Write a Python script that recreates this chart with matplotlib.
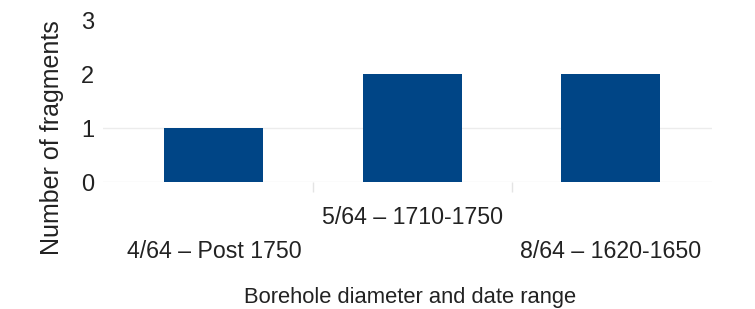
import numpy as np
import matplotlib
matplotlib.use("Agg")
import matplotlib.pyplot as plt

plt.rcParams['font.family'] = ['Liberation Sans', 'DejaVu Sans']

categories = ["4/64 \u2013 Post 1750", "5/64 \u2013 1710-1750", "8/64 \u2013 1620-1650"]
fragments = [1, 2, 2]
y_ticks = [0, 1, 2, 3]
grid_levels = [0, 1]   # only these gridlines show in the original

fig = plt.figure(figsize=(7.55, 3.09), dpi=100)
ax = fig.add_axes([0.136, 0.411, 0.807, 0.524])

x = np.arange(len(categories))
ax.bar(x, fragments, width=0.5, color="#004586", zorder=3)

ax.set_xlim(-0.56, 2.51)
ax.set_ylim(0, 3)
ax.set_yticks(y_ticks)
ax.yaxis.grid(True, color="#ececec", linewidth=1, zorder=0)
for val, gl in zip(y_ticks, ax.yaxis.get_gridlines()):
    gl.set_visible(val in grid_levels)
for s in ax.spines.values():
    s.set_visible(False)

ax.tick_params(axis="y", length=0, pad=6, labelsize=17, labelcolor="#222222")
ax.set_xticks(x)
ax.set_xticklabels(categories, fontsize=16.7, color="#222222")
ax.tick_params(axis="x", which="major", length=0)
# staggered category labels
for i, t in enumerate(ax.xaxis.get_major_ticks()):
    t.set_pad(17 if i == 1 else 42)

ax.set_xticks([0.5, 1.5], minor=True)
ax.tick_params(axis="x", which="minor", length=7, width=1, color="#e4e4e4")

ax.set_xlabel("Borehole diameter and date range", fontsize=15.8, color="#222222")
ax.xaxis.set_label_coords(0.504, -0.716)
ax.xaxis.label.set_va("center")
ax.set_ylabel("Number of fragments", fontsize=18, color="#222222")
ax.yaxis.set_label_coords(-0.083, 0.275)
ax.yaxis.label.set_va("center")

fig.savefig("out.png", dpi=100)
